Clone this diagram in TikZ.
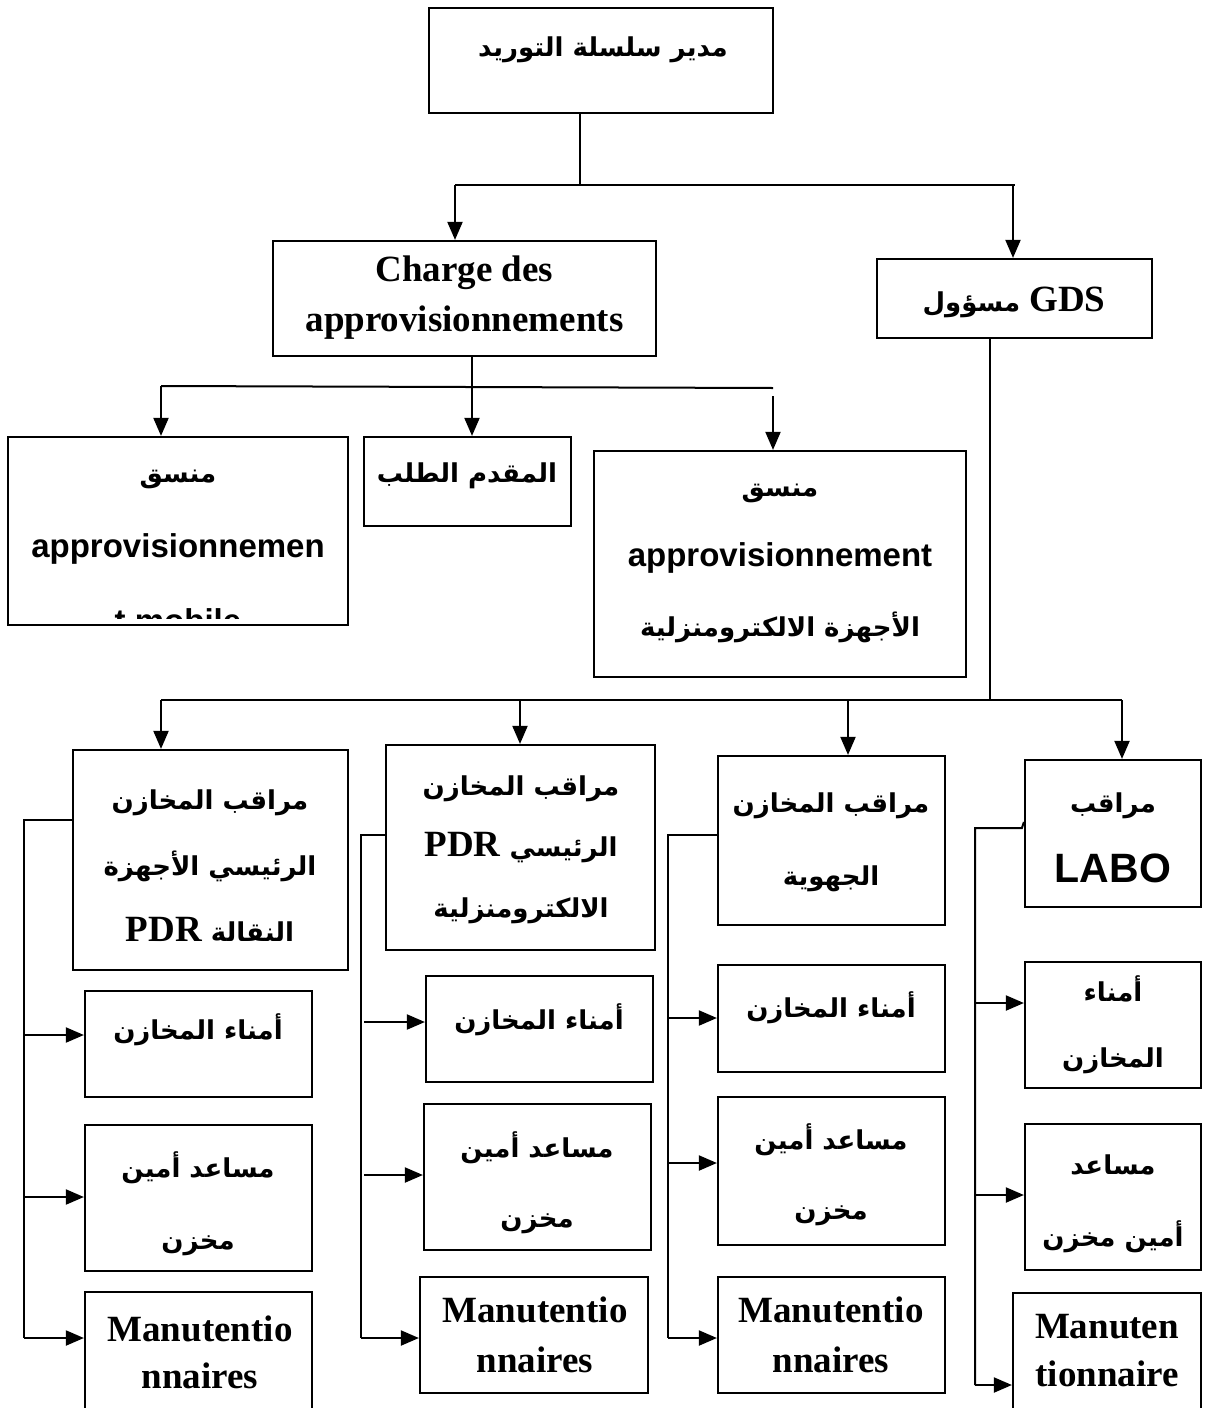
\documentclass[tikz,border=0pt]{standalone}
\usepackage{fontspec}
\usetikzlibrary{arrows.meta}
\TeXXeTstate=1
\newfontfamily\arabicfont[Script=Arabic]{DejaVu Sans}
\newfontfamily\timesfont{Liberation Serif}
\newfontfamily\arialfont{Liberation Sans}
% one right-to-left Arabic run
\newcommand\arrun[1]{{\arabicfont\bfseries #1}}
\newcommand\rtl[1]{\beginR #1\endR}
\newcommand\serifrun[1]{{\timesfont\bfseries\fontsize{18.5pt}{24pt}\selectfont\beginL #1\endL}}

\tikzset{
  box/.style={draw, line width=1.1pt, inner sep=0pt},
  wh/.style 2 args={minimum width=#1*0.5pt, minimum height=#2*0.5pt},
  conn/.style={line width=1pt},
  arr/.style={line width=1pt, -{Triangle[length=9pt,width=7.5pt]}},
  artext/.style={align=center, inner sep=0pt,
    font=\arabicfont\bfseries\fontsize{13pt}{#1}\selectfont},
  sftext/.style={align=center, inner sep=0pt,
    font=\arialfont\bfseries\fontsize{16.5pt}{#1}\selectfont},
  sertext/.style={align=center, inner sep=0pt,
    font=\timesfont\bfseries\fontsize{18.5pt}{#1}\selectfont},
}

\begin{document}
\begin{tikzpicture}[x=0.5pt,y=-0.5pt]
\useasboundingbox (0,0) rectangle (1205,1408);

% ---------- boxes ----------
\node[box, wh={344}{105}] (top)    at (601,60.5) {};
\node[box, wh={383}{115}] (charge) at (464.5,298.5) {};
\node[box, wh={275}{79}]  (gds)    at (1014.5,298.5) {};

\node[box, wh={340}{188}] (b1) at (178,531) {};
\node[box, wh={207}{89}]  (b2) at (467.5,481.5) {};
\node[box, wh={372}{226}] (b3) at (780,564) {};

\node[box, wh={275}{220}] (c1) at (210.5,860) {};
\node[box, wh={269}{205}] (c2) at (520.5,847.5) {};
\node[box, wh={227}{169}] (c3) at (831.5,840.5) {};
\node[box, wh={176}{147}] (c4) at (1113,833.5) {};

\node[box, wh={227}{106}] (a11) at (198.5,1044) {};
\node[box, wh={227}{146}] (a12) at (198.5,1198) {};
\node[box, wh={227}{128}] (a13) at (198.5,1356) {};

\node[box, wh={227}{106}] (a21) at (539.5,1029) {};
\node[box, wh={227}{146}] (a22) at (537.5,1177) {};
\node[box, wh={228}{116}] (a23) at (534,1335) {};

\node[box, wh={227}{107}] (a31) at (831.5,1018.5) {};
\node[box, wh={227}{148}] (a32) at (831.5,1171) {};
\node[box, wh={227}{116}] (a33) at (831.5,1335) {};

\node[box, wh={176}{126}] (a41) at (1113,1025) {};
\node[box, wh={176}{146}] (a42) at (1113,1197) {};
\node[box, wh={188}{128}] (a43) at (1107,1357) {};

% ---------- texts ----------
\node[artext=30pt] (ttop) at (603,50) {\rtl{مدير سلسلة التوريد}};
\node[sertext=25pt] (tcharge) at (464.5,298) {Charge des\\approvisionnements};
\node[artext=30pt] (tgds) at (1014,302) {\rtl{\serifrun{GDS} \arrun{مسؤول}}};

% the last line of this box runs past its lower edge and is cut off
\begin{scope}
  \clip (b1.north west) rectangle ([yshift=4pt]b1.south east);
  \node[sftext=37.5pt] (tb1) at (178,551)
    {\rtl{\arrun{\fontsize{13pt}{37.5pt}\selectfont منسق}}\\approvisionnemen\\t mobile};
\end{scope}
\node[artext=30pt] (tb2) at (467,476) {\rtl{المقدم الطلب}};
\node[sftext=35pt] (tb3) at (780,563)
  {\rtl{\arrun{\fontsize{13pt}{35pt}\selectfont منسق}}\\approvisionnement\\
   \rtl{\arrun{\fontsize{13pt}{35pt}\selectfont الأجهزة الالكترومنزلية}}};

\node[artext=33pt] (tc1) at (210,866)
  {\rtl{مراقب المخازن}\\\rtl{الرئيسي الأجهزة}\\\rtl{النقالة \serifrun{PDR}}};
\node[artext=30.5pt] (tc2) at (521,850)
  {\rtl{مراقب المخازن}\\\rtl{الرئيسي \serifrun{PDR}}\\\rtl{الالكترومنزلية}};
\node[artext=36.5pt] (tc3) at (831,842) {\rtl{مراقب المخازن}\\\rtl{الجهوية}};
\node[sftext=35pt] (tc4) at (1113,838)
  {\rtl{\arrun{\fontsize{13pt}{35pt}\selectfont مراقب}}\\{\fontsize{20.5pt}{35pt}\selectfont LABO}};

\node[artext=30pt] (ta11) at (198,1030) {\rtl{أمناء المخازن}};
\node[artext=36pt] (ta12) at (198,1204) {\rtl{مساعد أمين}\\\rtl{مخزن}};
\node[sertext=23.5pt] (ta13) at (200,1352) {Manutentio\\nnaires};

\node[artext=30pt] (ta21) at (539,1020) {\rtl{أمناء المخازن}};
\node[artext=35pt] (ta22) at (537,1183) {\rtl{مساعد أمين}\\\rtl{مخزن}};
\node[sertext=25pt] (ta23) at (535,1335) {Manutentio\\nnaires};

\node[artext=30pt] (ta31) at (831,1008) {\rtl{أمناء المخازن}};
\node[artext=35pt] (ta32) at (831,1175) {\rtl{مساعد أمين}\\\rtl{مخزن}};
\node[sertext=25pt] (ta33) at (831,1335) {Manutentio\\nnaires};

\node[artext=33pt] (ta41) at (1113,1025) {\rtl{أمناء}\\\rtl{المخازن}};
\node[artext=36pt] (ta42) at (1113,1204) {\rtl{مساعد}\\\rtl{أمين مخزن}};
\node[sertext=24pt] (ta43) at (1107,1351) {Manuten\\tionnaire};

% ---------- connectors: top level ----------
\coordinate (j1)  at (580,185);
\coordinate (h1l) at (455,185);
\coordinate (h1r) at (1013,185);
\draw[conn] (top.south -| j1) -- (j1);
\draw[conn] (h1l) -- ([xshift=1pt]h1r);
\draw[arr] (h1l) -- (h1l |- charge.north);
\draw[arr] (h1r) -- (h1r |- gds.north);

% ---------- connectors: under "Charge des approvisionnements" ----------
\coordinate (j2)  at (472,386);
\coordinate (h2l) at (161,386);
\coordinate (h2r) at (773,388);
\coordinate (h2d) at (773,396);
\draw[conn] (h2l) -- (h2r);
\draw[arr] (charge.south -| j2) -- (b2.north -| j2);
\draw[arr] (h2l) -- (h2l |- b1.north);
\draw[arr] (h2d) -- (h2d |- b3.north);

% ---------- connectors: under GDS ----------
\coordinate (j3)  at (990,700);
\coordinate (h3a) at (161,700);
\coordinate (h3b) at (520,700);
\coordinate (h3c) at (848,700);
\coordinate (h3d) at (1122,700);
\draw[conn] (gds.south -| j3) -- (j3);
\draw[conn] (h3a) -- (h3d);
\draw[arr] (h3a) -- (h3a |- c1.north);
\draw[arr] (h3b) -- (h3b |- c2.north);
\draw[arr] (h3c) -- (h3c |- c3.north);
\draw[arr] (h3d) -- (h3d |- c4.north);

% ---------- column buses ----------
% column 1
\coordinate (k1) at (24,820);
\coordinate (k1a) at (24,1035);
\coordinate (k1b) at (24,1197);
\coordinate (k1c) at (24,1338);
\draw[conn] (c1.west |- k1) -- (k1) -- (k1c);
\draw[arr] (k1a) -- (k1a -| a11.west);
\draw[arr] (k1b) -- (k1b -| a12.west);
\draw[arr] (k1c) -- (k1c -| a13.west);

% column 2
\coordinate (k2) at (361,835);
\coordinate (k2a) at (364,1022);
\coordinate (k2b) at (364,1175);
\coordinate (k2c) at (361,1338);
\draw[conn] (c2.west |- k2) -- (k2) -- (k2c);
\draw[arr] (k2a) -- (k2a -| a21.west);
\draw[arr] (k2b) -- (k2b -| a22.west);
\draw[arr] (k2c) -- (k2c -| a23.west);

% column 3
\coordinate (k3) at (668,835);
\coordinate (k3a) at (668,1018);
\coordinate (k3b) at (668,1163);
\coordinate (k3c) at (668,1338);
\draw[conn] (c3.west |- k3) -- (k3) -- (k3c);
\draw[arr] (k3a) -- (k3a -| a31.west);
\draw[arr] (k3b) -- (k3b -| a32.west);
\draw[arr] (k3c) -- (k3c -| a33.west);

% column 4
\coordinate (k4) at (975,828);
\coordinate (k4a) at (975,1003);
\coordinate (k4b) at (975,1195);
\coordinate (k4c) at (975,1385);
\draw[conn] (c4.west |- 0,822) -- ++(-2,6) -- (k4) -- (k4c);
\draw[arr] (k4a) -- (k4a -| a41.west);
\draw[arr] (k4b) -- (k4b -| a42.west);
\draw[arr] (k4c) -- (k4c -| a43.west);
\end{tikzpicture}
\end{document}
